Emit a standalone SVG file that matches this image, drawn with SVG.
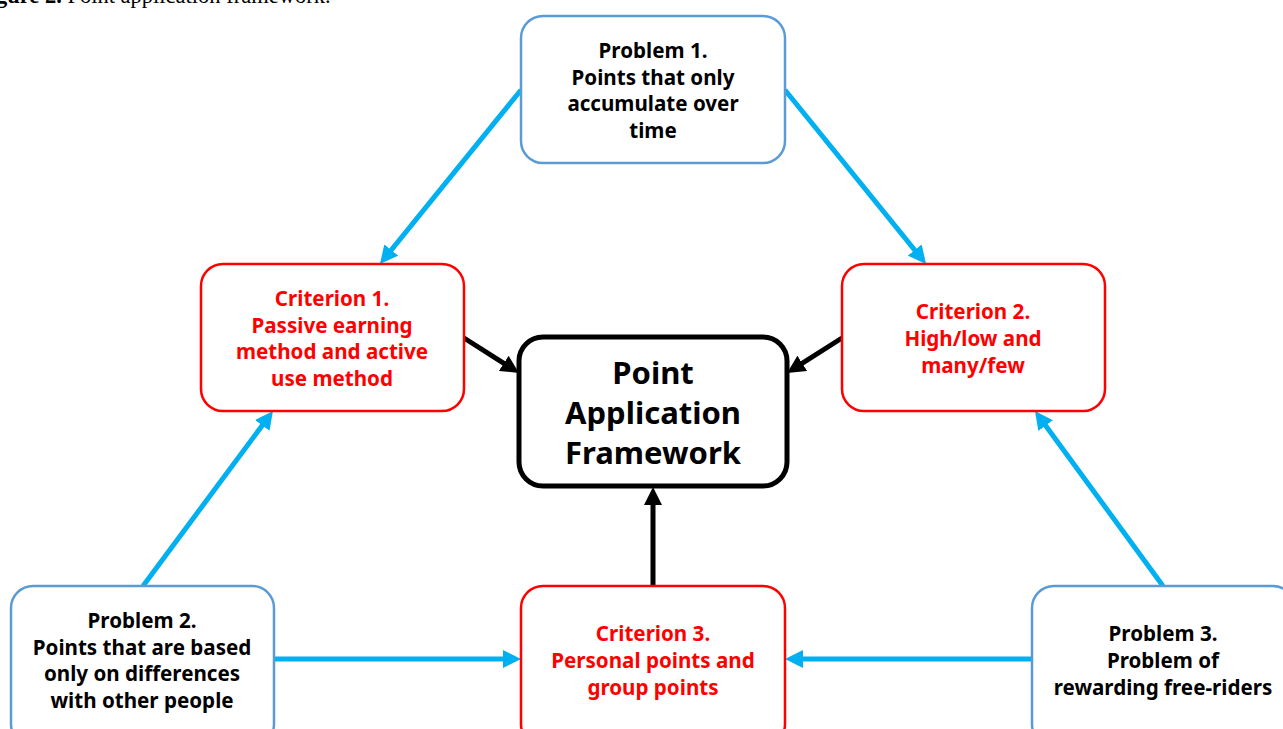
<svg xmlns="http://www.w3.org/2000/svg" width="1283" height="729" viewBox="0 0 1283 729">
<style>
.prob{fill:#fff;stroke:#5B9BD5;stroke-width:2.5}
.crit{fill:#fff;stroke:#FF0000;stroke-width:2.5}
.core{fill:#fff;stroke:#000;stroke-width:5}
.t{font-family:"Noto Sans","Open Sans",sans-serif;font-weight:bold;font-size:20.6px;text-anchor:middle}
.tb{fill:#000}
.tr{fill:#FF0000}
.big{font-family:"Noto Sans","Open Sans",sans-serif;font-weight:bold;font-size:31px;text-anchor:middle;fill:#000}
.blue{stroke:#00B0F0;stroke-width:5;fill:none}
.black{stroke:#000;stroke-width:5;fill:none}
.cap{font-family:"Liberation Serif",serif;font-size:22.5px;fill:#000}
</style>
<defs>
<marker id="ab" viewBox="0 0 18 18" refX="10" refY="9" markerWidth="18" markerHeight="18" markerUnits="userSpaceOnUse" orient="auto"><path d="M0,0 L18,9 L0,18 z" fill="#00B0F0"/></marker>
<marker id="ak" viewBox="0 0 18 18" refX="10" refY="9" markerWidth="18" markerHeight="18" markerUnits="userSpaceOnUse" orient="auto"><path d="M0,0 L18,9 L0,18 z" fill="#000"/></marker>
</defs>
<rect width="1283" height="729" fill="#fff"/>
<text class="cap" x="-4" y="3"><tspan font-weight="bold">gure 2.</tspan> Point application framework.</text>
<g id="connectors">
<path class="blue" d="M521,90 L385,257.8" marker-end="url(#ab)"/>
<path class="blue" d="M785,90 L921,257.8" marker-end="url(#ab)"/>
<path class="blue" d="M143,586 L268.2,417.4" marker-end="url(#ab)"/>
<path class="blue" d="M1163,586 L1039.7,417.5" marker-end="url(#ab)"/>
<path class="blue" d="M274,659 L513,659" marker-end="url(#ab)"/>
<path class="blue" d="M1032,659 L793,659" marker-end="url(#ab)"/>
<path class="black" d="M464,338 L512.2,368.7" marker-end="url(#ak)"/>
<path class="black" d="M842,338 L793.8,368.7" marker-end="url(#ak)"/>
<path class="black" d="M653,586 L653,495" marker-end="url(#ak)"/>
</g>
<g id="problem1">
<rect class="prob" x="521" y="16" width="264" height="147" rx="22"/>
<text class="t tb" x="653" y="58">Problem 1.</text>
<text class="t tb" x="653" y="85">Points that only</text>
<text class="t tb" x="653" y="111">accumulate over</text>
<text class="t tb" x="653" y="138">time</text>
</g>
<g id="criterion1">
<rect class="crit" x="201" y="264" width="263" height="147" rx="22"/>
<text class="t tr" x="332" y="306">Criterion 1.</text>
<text class="t tr" x="332" y="333">Passive earning</text>
<text class="t tr" x="332" y="359">method and active</text>
<text class="t tr" x="332" y="386">use method</text>
</g>
<g id="criterion2">
<rect class="crit" x="842" y="264" width="263" height="147" rx="22"/>
<text class="t tr" x="973" y="319">Criterion 2.</text>
<text class="t tr" x="973" y="346">High/low and</text>
<text class="t tr" x="973" y="373">many/few</text>
</g>
<g id="framework">
<rect class="core" x="519" y="337" width="268" height="149" rx="24"/>
<text class="big" x="653" y="384">Point</text>
<text class="big" x="653" y="424">Application</text>
<text class="big" x="653" y="464">Framework</text>
</g>
<g id="problem2">
<rect class="prob" x="11" y="586" width="263" height="160" rx="22"/>
<text class="t tb" x="142" y="628">Problem 2.</text>
<text class="t tb" x="142" y="655">Points that are based</text>
<text class="t tb" x="142" y="681">only on differences</text>
<text class="t tb" x="142" y="708">with other people</text>
</g>
<g id="criterion3">
<rect class="crit" x="521" y="586" width="264" height="160" rx="22"/>
<text class="t tr" x="653" y="641">Criterion 3.</text>
<text class="t tr" x="653" y="668">Personal points and</text>
<text class="t tr" x="653" y="695">group points</text>
</g>
<g id="problem3">
<rect class="prob" x="1032" y="586" width="263" height="160" rx="22"/>
<text class="t tb" x="1163" y="641">Problem 3.</text>
<text class="t tb" x="1163" y="668">Problem of</text>
<text class="t tb" x="1163" y="695">rewarding free-riders</text>
</g>
</svg>
